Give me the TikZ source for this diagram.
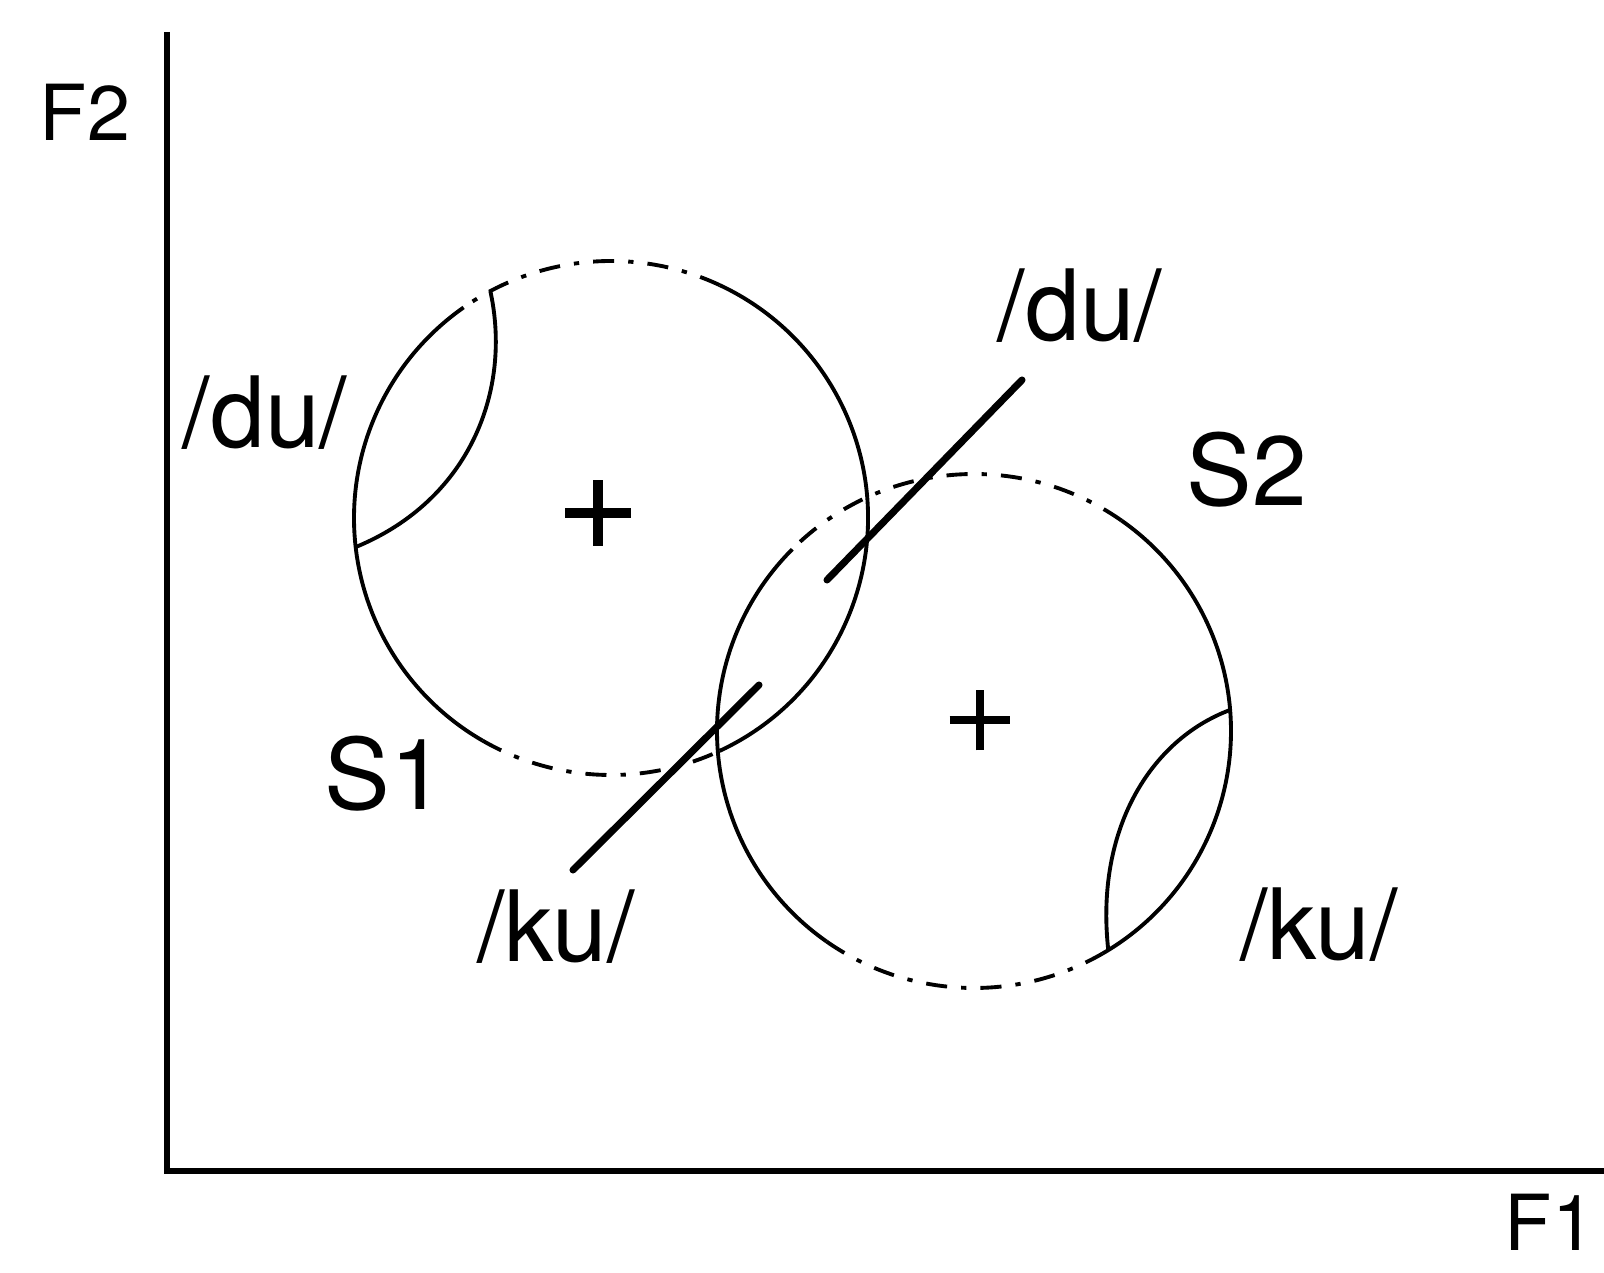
\documentclass[tikz,border=0pt]{standalone}
\usepackage{fontspec}
\setmainfont{TeX Gyre Heros}
\usetikzlibrary{calc,shapes.misc}
\tikzset{
  axis/.style={line width=1.9pt},
  ring/.style={line width=1.1pt},
  ringdsh/.style={ring,dash pattern=on 6pt off 4pt on 1.5pt off 4pt},
  lens/.style={line width=1.1pt},
  bar/.style={line width=2pt,line cap=round},
  ctr/.style={cross out,draw,rotate=45,minimum size=0.37cm,inner sep=0pt,line width=2.6pt},
  lbl/.style={inner sep=0pt,font=\fontsize{28}{30}\selectfont},
  axlbl/.style={inner sep=0pt,font=\fontsize{22}{24}\selectfont}
}

\begin{document}
\begin{tikzpicture}
  \useasboundingbox (0,0) rectangle (16.04,12.72);

  \coordinate (o) at (1.67,1.01);
  \coordinate (ytop) at (1.67,12.40);
  \coordinate (xend) at (16.04,1.01);
  \draw[axis] (ytop) -- (o) -- (xend);
  \node[axlbl] (f2) at (0.85,11.60) {F2};
  \node[axlbl,anchor=base] (f1) at (15.50,0.22) {F1};

  \coordinate (c1) at (6.11,7.54);
  \coordinate (c2) at (9.74,5.41);
  \node[ctr] (p1) at (5.98,7.59) {};
  \node[ctr,minimum size=0.35cm,line width=2.3pt] (p2) at (9.80,5.52) {};

  \draw[ring] (c1) ++(-65:2.57) arc[start angle=-65,end angle=65,radius=2.57];
  \draw[ringdsh] (c1) ++(65:2.57) arc[start angle=65,end angle=125,radius=2.57];
  \draw[ring] (c1) ++(125:2.57) arc[start angle=125,end angle=240,radius=2.57];
  \draw[ringdsh] (c1) ++(240:2.57) arc[start angle=240,end angle=295,radius=2.57];

  \draw[ring] (c2) ++(-60:2.57) arc[start angle=-60,end angle=55,radius=2.57];
  \draw[ringdsh] (c2) ++(55:2.57) arc[start angle=55,end angle=135,radius=2.57];
  \draw[ring] (c2) ++(135:2.57) arc[start angle=135,end angle=235,radius=2.57];
  \draw[ringdsh] (c2) ++(235:2.57) arc[start angle=235,end angle=300,radius=2.57];

  \coordinate (l1a) at ($(c1)+(118:2.57)$);
  \coordinate (l1b) at ($(c1)+(186.5:2.57)$);
  \coordinate (l2a) at ($(c2)+(4.7:2.57)$);
  \coordinate (l2b) at ($(c2)+(301.5:2.57)$);
  \draw[lens] (l1a) .. controls (5.12,8.82) and (4.70,7.72) .. (l1b);
  \draw[lens] (l2a) .. controls (11.50,5.32) and (10.95,4.42) .. (l2b);

  \coordinate (dua) at (8.27,6.92);
  \coordinate (dub) at (10.22,8.92);
  \coordinate (kua) at (5.73,4.02);
  \coordinate (kub) at (7.59,5.87);
  \draw[bar] (dua) -- (dub);
  \draw[bar] (kua) -- (kub);

  \node[lbl] (du1) at (2.65,8.59) {/du/};
  \node[lbl] (du2) at (10.80,9.66) {/du/};
  \node[lbl] (s2) at (12.47,8.02) {S2};
  \node[lbl] (s1) at (3.85,4.98) {S1};
  \node[lbl] (ku1) at (5.56,3.45) {/ku/};
  \node[lbl] (ku2) at (13.19,3.47) {/ku/};
\end{tikzpicture}
\end{document}
